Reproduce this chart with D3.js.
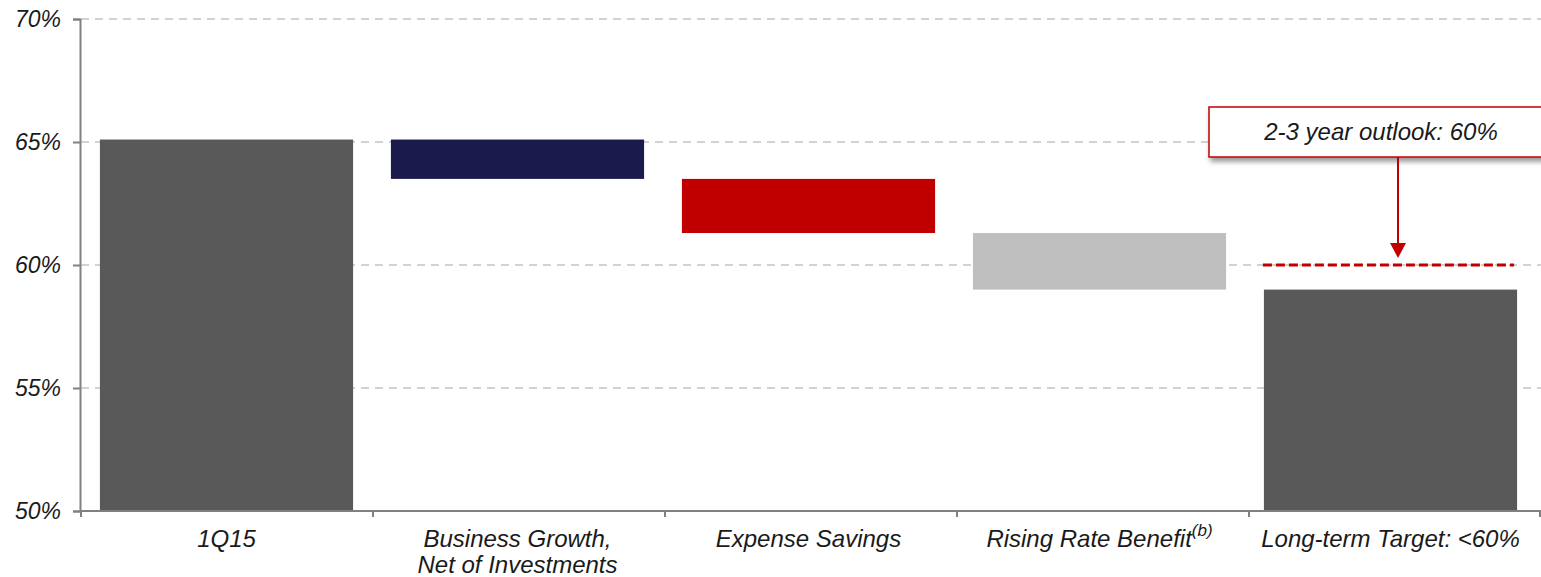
<!DOCTYPE html>
<html>
<head>
<meta charset="utf-8">
<script src="https://cdn.jsdelivr.net/npm/d3@7"></script>
<style>
  html, body { margin: 0; padding: 0; background: #fff; }
  svg { display: block; }
  text { font-family: "Liberation Sans", Arial, sans-serif; font-style: italic; fill: #1a1a1a; }
</style>
</head>
<body>
<svg id="chart" width="1541" height="577"></svg>
<script>
// ---- data ----
const categories = ["1Q15", "Business Growth,|Net of Investments", "Expense Savings", "Rising Rate Benefit", "Long-term Target: <60%"];
const barStart = [50.0, 65.1, 63.5, 61.3, 50.0];
const barEnd   = [65.1, 63.5, 61.3, 59.0, 59.0];
const barColors = ["#595959", "#1b1a4d", "#c00000", "#bfbfbf", "#595959"];
const yTicks = [50, 55, 60, 65, 70];
const targetValue = 60;
const calloutText = "2-3 year outlook: 60%";

// ---- layout ----
const svg = d3.select("#chart");
const x0 = 81, x1 = 1541, yTop = 19, yBot = 511;

const x = d3.scaleBand().domain(d3.range(categories.length)).range([x0, x1 - 5]).paddingInner(0.13).paddingOuter(0.065);
const y = d3.scaleLinear().domain([50, 70]).range([yBot, yTop]);

// gridlines
svg.append("g").selectAll("line").data(yTicks.filter(d => d > 50)).join("line")
  .attr("x1", x0).attr("x2", x1)
  .attr("y1", d => y(d)).attr("y2", d => y(d))
  .attr("stroke", "#c4c4c4").attr("stroke-width", 1.5).attr("stroke-dasharray", "8,6");

// bars
svg.append("g").selectAll("rect").data(categories).join("rect")
  .attr("x", (d, i) => x(i))
  .attr("width", x.bandwidth())
  .attr("y", (d, i) => y(Math.max(barStart[i], barEnd[i])))
  .attr("height", (d, i) => Math.abs(y(barStart[i]) - y(barEnd[i])))
  .attr("fill", (d, i) => barColors[i]);

// y axis
const yAxis = d3.axisLeft(y).tickValues(yTicks).tickSize(7).tickFormat(d => d + "%");
const gy = svg.append("g").attr("transform", `translate(${x0 - 1},0)`).call(yAxis);
gy.select(".domain").attr("stroke", "#808080").attr("stroke-width", 2);
gy.selectAll(".tick line").attr("stroke", "#808080").attr("stroke-width", 2);
gy.selectAll(".tick text").attr("font-size", 23).attr("font-family", "Liberation Sans, Arial, sans-serif")
  .attr("font-style", "italic").attr("fill", "#1a1a1a").attr("x", -19).attr("dy", "0.34em");

// x axis line and ticks at category boundaries
const boundaries = d3.range(categories.length + 1).map(i => x0 + i * (x1 - x0) / categories.length);
svg.append("line").attr("x1", x0 - 1).attr("x2", x1).attr("y1", yBot).attr("y2", yBot)
  .attr("stroke", "#808080").attr("stroke-width", 2);
svg.append("g").selectAll("line").data(boundaries).join("line")
  .attr("x1", d => Math.min(d, x1 - 1)).attr("x2", d => Math.min(d, x1 - 1))
  .attr("y1", yBot).attr("y2", yBot + 6)
  .attr("stroke", "#808080").attr("stroke-width", 2);

// category labels
const lab = svg.append("g").selectAll("text").data(categories).join("text")
  .attr("x", (d, i) => x(i) + x.bandwidth() / 2)
  .attr("y", 547)
  .attr("text-anchor", "middle")
  .attr("font-size", 24);
lab.each(function(d, i) {
  const t = d3.select(this);
  const lines = d.split("|");
  lines.forEach((ln, k) => {
    t.append("tspan").attr("x", x(i) + x.bandwidth() / 2).attr("dy", k === 0 ? 0 : 26).text(ln);
  });
  if (i === 3) {
    t.append("tspan").attr("dy", -11).attr("font-size", 17).text("(b)");
  }
});

// target dashed line
const tIdx = 4;
svg.append("line")
  .attr("x1", x(tIdx) - 1).attr("x2", x(tIdx) + x.bandwidth() - 3)
  .attr("y1", y(targetValue)).attr("y2", y(targetValue))
  .attr("stroke", "#c00000").attr("stroke-width", 3).attr("stroke-dasharray", "9,4");

// callout
const defs = svg.append("defs");
const f = defs.append("filter").attr("id", "shadow").attr("x", "-10%").attr("y", "-20%").attr("width", "130%").attr("height", "160%");
f.append("feDropShadow").attr("dx", 2).attr("dy", 4).attr("stdDeviation", 2.5).attr("flood-color", "#000").attr("flood-opacity", 0.4);

const boxX = 1209, boxY = 107, boxW = 345, boxH = 50;
svg.append("rect").attr("x", boxX).attr("y", boxY).attr("width", boxW).attr("height", boxH)
  .attr("fill", "#fff").attr("stroke", "#c00000").attr("stroke-width", 1.5).attr("filter", "url(#shadow)");
svg.append("text").attr("x", 1381).attr("y", 140).attr("text-anchor", "middle").attr("font-size", 24).text(calloutText);

// arrow
const ax = 1398;
svg.append("line").attr("x1", ax).attr("x2", ax).attr("y1", boxY + boxH).attr("y2", y(targetValue) - 20)
  .attr("stroke", "#c00000").attr("stroke-width", 2);
svg.append("path")
  .attr("d", `M${ax - 8},${y(targetValue) - 22} L${ax + 8},${y(targetValue) - 22} L${ax},${y(targetValue) - 7} Z`)
  .attr("fill", "#c00000");
</script>
</body>
</html>
